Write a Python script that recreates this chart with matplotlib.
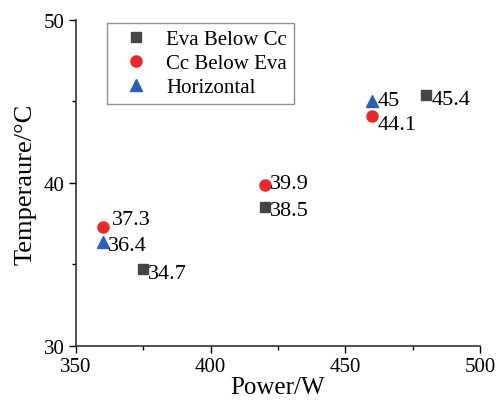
import matplotlib.pyplot as plt
from matplotlib.ticker import MultipleLocator

plt.rcParams['font.family'] = ['Liberation Serif', 'DejaVu Serif']

# datos
eva_x = [375, 420, 480]
eva_y = [34.7, 38.5, 45.4]
cc_x = [360, 420, 460]
cc_y = [37.3, 39.9, 44.1]
hor_x = [360, 460]
hor_y = [36.4, 45.0]

# desplazamiento de cada etiqueta (puntos)
eva_off = [(3.5, -3), (4, -2.5), (4, -3.5)]
cc_off = [(6.5, 5), (4, 1), (4, -6)]
hor_off = [(3.5, -3), (4, 1)]

fig = plt.figure(figsize=(4.96, 4.02), dpi=100)
ax = fig.add_axes([0.153, 0.137, 0.815, 0.811])

ax.plot(eva_x, eva_y, 's', color='#454545', markersize=7, label='Eva Below Cc')
ax.plot(cc_x, cc_y, 'o', color='#e8282c', markersize=8, label='Cc Below Eva')
ax.plot(hor_x, hor_y, '^', color='#2b5fb4', markersize=8, label='Horizontal')

for xs, ys, offs in [(eva_x, eva_y, eva_off), (cc_x, cc_y, cc_off), (hor_x, hor_y, hor_off)]:
    for x, y, o in zip(xs, ys, offs):
        ax.annotate(f'{y:g}', (x, y), xytext=o, textcoords='offset points',
                    fontsize=16, ha='left', va='center')

ax.set_xlim(350, 500)
ax.set_ylim(30, 50)
ax.xaxis.set_major_locator(MultipleLocator(50))
ax.xaxis.set_minor_locator(MultipleLocator(25))
ax.yaxis.set_major_locator(MultipleLocator(10))
ax.yaxis.set_minor_locator(MultipleLocator(5))
ax.tick_params(which='major', direction='out', length=5, width=1, labelsize=15, pad=3)
ax.tick_params(which='minor', direction='out', length=3, width=1)
for s in ['top', 'right']:
    ax.spines[s].set_visible(False)
for s in ['left', 'bottom']:
    ax.spines[s].set_color('#333333')
    ax.spines[s].set_linewidth(1.2)

ax.set_xlabel('Power/W', fontsize=18, labelpad=0)
ax.set_ylabel('Temperaure/°C', fontsize=19, labelpad=5)

leg = ax.legend(loc='upper left', bbox_to_anchor=(0.077, 0.992), fontsize=15,
                fancybox=False, edgecolor='#777777', handletextpad=0.4,
                borderpad=0.35, labelspacing=0.2, handlelength=2.1, borderaxespad=0)
leg.get_frame().set_linewidth(1.0)

fig.savefig('out.png', dpi=100)
